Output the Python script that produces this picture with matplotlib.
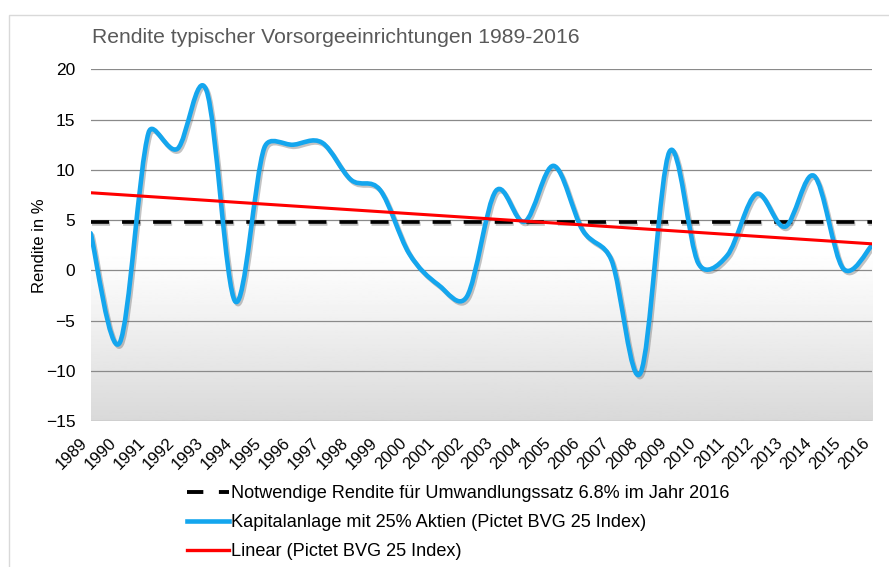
"""
Rendite typischer Vorsorgeeinrichtungen 1989-2016 - smoothed return line (Excel style),
required return (dashed) and linear trend.
"""
import numpy as np, matplotlib
matplotlib.use("Agg")
import matplotlib.pyplot as plt
import matplotlib.patheffects as pe
import matplotlib.transforms as mtransforms
from matplotlib.path import Path
from matplotlib.patches import PathPatch, Rectangle
from matplotlib.lines import Line2D
plt.rcParams.update({"font.family":["Liberation Sans","DejaVu Sans"],"font.size":11})

YEARS=list(range(1989,2017))
RENDITE=[3.7,-7.2,13.7,12.1,17.9,-3.1,12.2,12.5,12.7,9.0,8.0,1.7,-1.4,-2.6,7.9,4.85,10.4,4.0,1.0,-10.2,
         11.8,0.7,1.5,7.6,4.35,9.4,0.2,2.5]
NOTWENDIG=4.85
YTICKS=[-15,-10,-5,0,5,10,15,20]
TITLE="Rendite typischer Vorsorgeeinrichtungen 1989-2016"
LABELS=["Notwendige Rendite für Umwandlungssatz 6.8% im Jahr 2016",
        "Kapitalanlage mit 25% Aktien (Pictet BVG 25 Index)",
        "Linear (Pictet BVG 25 Index)"]
BLUE="#14A6EE"; RED="#FF0000"

W,H=889,567
fig=plt.figure(figsize=(W/100,H/100),dpi=100)
fig.patches.append(Rectangle((9/W,-0.2),1.2,1.2-15/H,transform=fig.transFigure,fill=False,ec="#d9d9d9",lw=1))
ax=fig.add_axes([90.7/W,1-421.3/H,(872-90.7)/W,(421.3-69.3)/H])
ax.set_xlim(YEARS[0],YEARS[-1]); ax.set_ylim(-15,20)

# plot-area gradient: white at top, light gray towards the bottom
yy=np.linspace(20,-15,300)
shade=1-0.15*np.clip((2-yy)/17,0,1)**1.1
ax.imshow(shade[:,None],extent=[YEARS[0],YEARS[-1],-15,20],aspect="auto",cmap="gray",vmin=0,vmax=1,zorder=0)
for y in YTICKS: ax.axhline(y,color="#8a8a8a",lw=0.9,zorder=1)

# Excel-like smoothed line: Bezier with 1/6 tangents, limited to half the segment (in pixel space)
sx=(872-90.7)/27; sy=(421.3-69.3)/35
P=np.column_stack([np.array(YEARS,float)*sx,np.array(RENDITE,float)*sy]); n=len(P)
verts=[(YEARS[0],RENDITE[0])]; codes=[Path.MOVETO]
for i in range(n-1):
    p0=P[max(i-1,0)]; p1=P[i]; p2=P[i+1]; p3=P[min(i+2,n-1)]
    d12=np.hypot(*(p2-p1)); d02=np.hypot(*(p2-p0)); d13=np.hypot(*(p3-p1))
    f0=1/6 if d02/6<d12/2 else d12/2/max(d02,1e-9)
    f1=1/6 if d13/6<d12/2 else d12/2/max(d13,1e-9)
    c1=p1+(p2-p0)*f0; c2=p2-(p3-p1)*f1
    for c in (c1,c2,p2): verts.append((c[0]/sx,c[1]/sy))
    codes+=[Path.CURVE4]*3
shadow=[pe.SimpleLineShadow(offset=(1.2,-1.5),shadow_color="#555555",alpha=0.35),pe.Normal()]
ax.add_patch(PathPatch(Path(verts,codes),fill=False,ec=BLUE,lw=3.3,zorder=4,path_effects=shadow,capstyle="round",joinstyle="round"))

ax.axhline(NOTWENDIG,color="black",lw=2.6,dashes=(5,3.6),zorder=3,path_effects=shadow)
x=np.array(YEARS,float); k,d=np.polyfit(x,np.array(RENDITE),1)
ax.plot(x[[0,-1]],k*x[[0,-1]]+d,color=RED,lw=2.2,zorder=5)

ax.set_yticks(YTICKS); ax.set_xticks(YEARS)
ax.set_xticklabels([str(v) for v in YEARS],rotation=45,ha="right",va="top",fontsize=12)
off=mtransforms.ScaledTranslation(4/100,0,fig.dpi_scale_trans)
for lb in ax.get_xticklabels(): lb.set_transform(lb.get_transform()+off)
ax.tick_params(axis="y",length=0,pad=11,labelsize=12.5)
ax.tick_params(axis="x",length=0,pad=10)
for sp in ax.spines.values(): sp.set_visible(False)
ax.set_ylabel("Rendite in %",fontsize=12,labelpad=-1)
fig.text(92/W,1-43/H,TITLE,fontsize=15.2,color="#595959",va="baseline")

handles=[Line2D([],[],color="black",lw=2.8,dashes=(4.2,4.0)),Line2D([],[],color=BLUE,lw=3.3),Line2D([],[],color=RED,lw=2.4)]
fig.legend(handles,LABELS,loc="upper left",bbox_to_anchor=(187/W,1-485/H),frameon=False,borderpad=0,borderaxespad=0,
           handlelength=2.3,handletextpad=0.1,labelspacing=0.67,fontsize=13.1)
fig.savefig("out.png",dpi=100)
